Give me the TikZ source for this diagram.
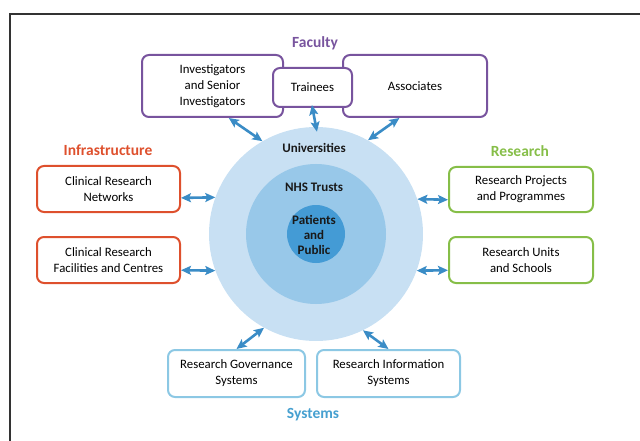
\documentclass[tikz,border=0pt]{standalone}
\usepackage{fontspec}
\setmainfont{Carlito}
\usetikzlibrary{arrows.meta}

\definecolor{facpurple}{RGB}{120,84,158}
\definecolor{infred}{RGB}{222,80,45}
\definecolor{resgreen}{RGB}{134,190,72}
\definecolor{sysblue}{RGB}{70,160,208}
\definecolor{sysbox}{RGB}{140,200,228}
\definecolor{linkblue}{RGB}{58,140,198}
\definecolor{ringout}{RGB}{200,224,243}
\definecolor{ringmid}{RGB}{152,200,233}
\definecolor{ringin}{RGB}{68,155,213}

\tikzset{
  box/.style={draw=#1, line width=2pt, rounded corners=7pt, fill=white,
    align=center, text=black, font=\fontsize{12.8}{16}\selectfont},
  heading/.style={text=#1, font=\bfseries\fontsize{15.5}{18}\selectfont},
  ringtext/.style={align=center, text=black!90, font=\bfseries\fontsize{13}{15}\selectfont},
  link/.style={draw=linkblue, line width=2.6pt,
    {Stealth[length=10pt,width=9pt,inset=2pt]}-{Stealth[length=10pt,width=9pt,inset=2pt]}},
}

\begin{document}
\begin{tikzpicture}[x=1pt, y=-1pt]
            \useasboundingbox (0, 0) rectangle (640, 441);
            % frame
            \draw [line width=1.3pt, black!80] (10, 441) -- (10, 14) -- (640, 14);

            % the three rings
            \node (univ) at (316, 234) [circle, fill=ringout, minimum size=214pt, inner sep=0pt] {};
            \node (nhs) at (316, 234) [circle, fill=ringmid, minimum size=140pt, inner sep=0pt] {};
            \node (pat) at (316, 234) [circle, fill=ringin, minimum size=58pt, inner sep=0pt] {};
            \node (univlabel) at (314, 148) [ringtext] {Universities};
            \node (nhslabel) at (314, 187) [ringtext] {NHS Trusts};
            \node (patlabel) at (314, 235) [ringtext] {Patients\\and\\Public};

            % headings
            \node (faculty) at (315, 43) [heading=facpurple] {Faculty};
            \node (infra) at (108, 150) [heading=infred] {Infrastructure};
            \node (research) at (520, 151) [heading=resgreen] {Research};
            \node (systems) at (313, 415) [heading=sysblue] {Systems};

            % faculty boxes
            \node (inv) at (212.5, 86) [box=facpurple, minimum width=141pt, minimum height=62pt] {Investigators\\and Senior\\Investigators};
            \node (ass) at (415, 86) [box=facpurple, minimum width=144pt, minimum height=62pt] {Associates};
            \node (tra) at (312.5, 87.5) [box=facpurple, minimum width=79pt, minimum height=39pt] {Trainees};

            % infrastructure boxes
            \node (crn) at (108.5, 189) [box=infred, minimum width=143pt, minimum height=46pt] {Clinical Research\\Networks};
            \node (crf) at (108.5, 260) [box=infred, minimum width=143pt, minimum height=46pt] {Clinical Research\\Facilities and Centres};

            % research boxes
            \node (rpp) at (521, 189.5) [box=resgreen, minimum width=144pt, minimum height=45pt] {Research Projects\\and Programmes};
            \node (rus) at (521, 260) [box=resgreen, minimum width=144pt, minimum height=46pt] {Research Units\\and Schools};

            % systems boxes
            \node (rgs) at (236.5, 373.5) [box=sysbox, minimum width=137pt, minimum height=47pt] {Research Governance\\Systems};
            \node (ris) at (388.5, 373.5) [box=sysbox, minimum width=143pt, minimum height=47pt] {Research Information\\Systems};

            % links to the rings
            \draw [link] (inv.-63) -- (univ.120);
            \draw [link, shorten <=-3pt, shorten >=-5pt] (tra.south) -- (univ.north);
            \draw [link] (ass.-116) -- (univ.61);
            \draw [link] (crn.-7) -- (univ.160);
            \draw [link] (crf.-8) -- (univ.200);
            \draw [link] (rpp.188) -- (univ.19);
            \draw [link] (rus.188) -- (univ.340);
            \draw [link] (rgs.north) -- (univ.-119);
            \draw [link] (ris.north) -- (univ.-64);
        \end{tikzpicture}
\end{document}
